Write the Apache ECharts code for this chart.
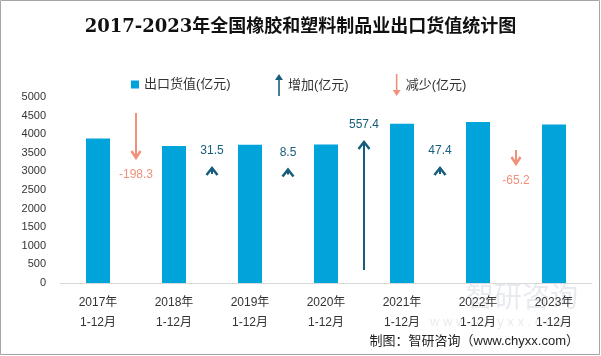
<!DOCTYPE html>
<html><head><meta charset="utf-8">
<script src="https://cdn.jsdelivr.net/npm/echarts@6/dist/echarts.min.js"></script>
<style>html,body{margin:0;padding:0;background:#fff}#c{width:601px;height:356px}</style>
</head><body><div id="c"></div>
<script>
const categories = ['2017年\n1-12月','2018年\n1-12月','2019年\n1-12月','2020年\n1-12月','2021年\n1-12月','2022年\n1-12月','2023年\n1-12月'];
const exportValues = [3881.5, 3683.2, 3714.7, 3723.2, 4280.6, 4328.0, 4262.8];
const yTicks = [0, 500, 1000, 1500, 2000, 2500, 3000, 3500, 4000, 4500, 5000];
// arrows between year i and i+1: [leftIndex, tailValue, tipValue, change]
const increaseArrows = [[1, 2930, 3090, 31.5], [2, 2920, 3050, 8.5], [3, 350, 3790, 557.4], [4, 2930, 3090, 47.4]];
const decreaseArrows = [[0, 4570, 3360, -198.3], [5, 3575, 3200, -65.2]];

const UP = '#175e7c', DOWN = '#f0917c', BAR = '#00a3da';
const font = '"Liberation Sans", "Noto Sans CJK SC", sans-serif';

function arrowItem(params, api) {
  const i = api.value(0), tail = api.value(1), tip = api.value(2), ch = api.value(3);
  const band = api.size([1, 0])[0];
  const p1 = api.coord([i, tail]), p2 = api.coord([i, tip]);
  const x = p1[0] + band / 2;
  const up = tip > tail;
  const color = up ? UP : DOWN;
  const hw = up ? 5.5 : 4.5, hh = 7;
  const head = up ? [[x - hw, p2[1] + hh], [x, p2[1]], [x + hw, p2[1] + hh]]
                  : [[x - hw, p2[1] - hh], [x, p2[1]], [x + hw, p2[1] - hh]];
  return {
    type: 'group',
    children: [
      {type: 'line', shape: {x1: x, y1: p1[1], x2: x, y2: p2[1] + (up ? 1 : -1)}, style: {stroke: color, lineWidth: 2}},
      {type: 'polyline', shape: {points: head}, style: {stroke: color, lineWidth: 2.5, fill: null}},
      {type: 'text', x: x, y: up ? p2[1] - 17 : p2[1] + 17,
       style: {text: String(ch), fill: color, font: '12px ' + font, align: 'center', verticalAlign: 'middle'}}
    ]
  };
}

const chart = echarts.init(document.getElementById('c'));
chart.setOption({
  animation: false,
  title: {text: '2017-2023年全国橡胶和塑料制品业出口货值统计图', left: 'center', top: 13,
    textStyle: {fontSize: 18, fontWeight: 'bold', color: '#111', fontFamily: '"DejaVu Serif", "Noto Sans CJK SC", serif'}},
  legend: [
    {data: ['出口货值(亿元)'], left: 126, top: 73, itemWidth: 8, itemHeight: 8, icon: 'rect',
     textStyle: {fontSize: 13, color: '#333', fontFamily: font}},
    {data: [{name: '增加(亿元)', icon: 'path://M4,0 L8,6 L4.8,6 L4.8,22 L3.2,22 L3.2,6 L0,6 Z'},
            {name: '减少(亿元)', icon: 'path://M3.2,0 L4.8,0 L4.8,16 L8,16 L4,22 L0,16 L3.2,16 Z'}],
     left: 270, top: 69, itemWidth: 8, itemHeight: 22, itemGap: 44,
     textStyle: {fontSize: 13, color: '#333', fontFamily: font}}
  ],
  grid: {left: 60, right: 9, top: 97, bottom: 73},
  xAxis: {type: 'category', data: categories,
    axisLine: {lineStyle: {color: '#d9d9d9'}}, axisTick: {show: false},
    axisLabel: {fontSize: 12, color: '#333', lineHeight: 20, margin: 10, fontFamily: font}},
  yAxis: {type: 'value', min: yTicks[0], max: yTicks[yTicks.length - 1], interval: 500,
    axisLine: {show: false}, axisTick: {show: false}, splitLine: {show: false},
    axisLabel: {fontSize: 11, color: '#333', margin: 14, fontFamily: font, formatter: v => String(v)}},
  series: [
    {name: '出口货值(亿元)', type: 'bar', data: exportValues, barWidth: 24, itemStyle: {color: BAR}},
    {name: '增加(亿元)', type: 'custom', renderItem: arrowItem, data: increaseArrows, itemStyle: {color: UP}, z: 5},
    {name: '减少(亿元)', type: 'custom', renderItem: arrowItem, data: decreaseArrows, itemStyle: {color: DOWN}, z: 5}
  ],
  graphic: [
    {type: 'rect', shape: {x: 0.5, y: 0.5, width: 599, height: 354}, style: {fill: null, stroke: '#a6a6a6', lineWidth: 1}, silent: true},
    {type: 'text', left: 466, top: 282, style: {text: '智研咨询', fill: 'rgba(170,180,195,0.28)', font: '28px "Noto Sans CJK SC"'}, silent: true, z: 0},
    {type: 'text', left: 430, top: 316, style: {text: 'w w w . c h y x x . c o m', fill: 'rgba(170,180,195,0.28)', font: '13px ' + font}, silent: true, z: 0},
    {type: 'text', right: 22, top: 335, style: {text: '制图：智研咨询（www.chyxx.com）', fill: '#222', font: '13px ' + font}}
  ]
});
</script></body></html>
